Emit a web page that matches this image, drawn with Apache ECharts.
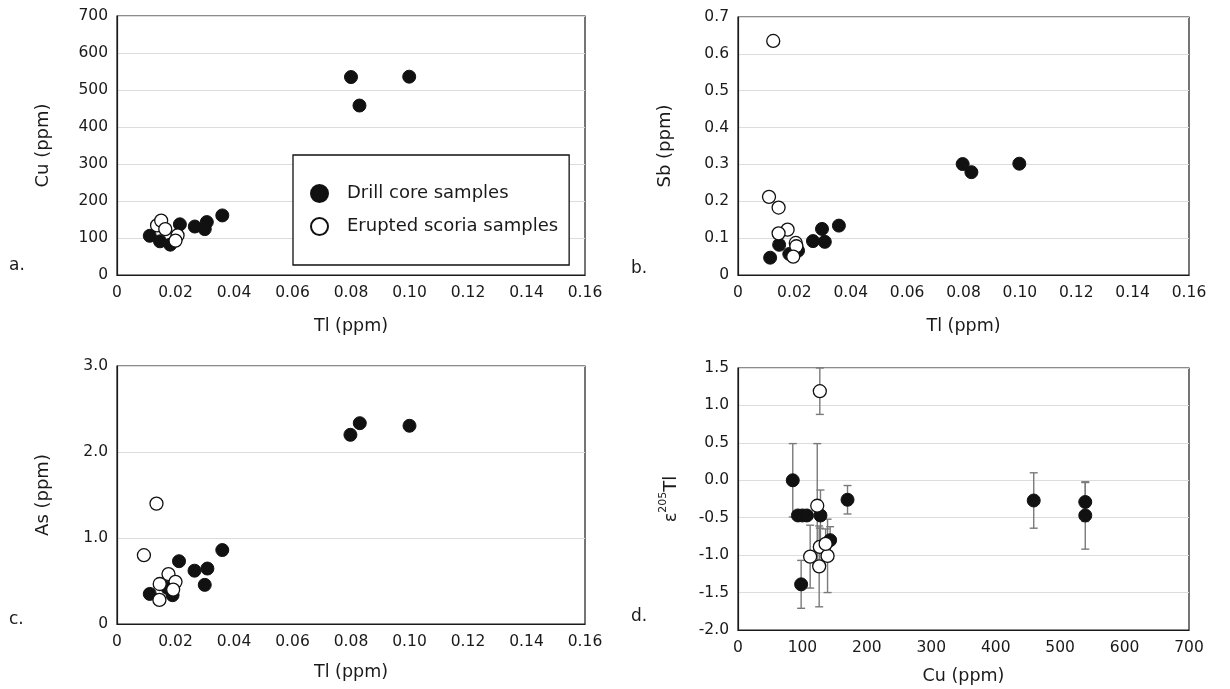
<!DOCTYPE html>
<html>
<head>
<meta charset="utf-8">
<script src="https://cdn.jsdelivr.net/npm/echarts@6/dist/echarts.min.js"></script>
<style>
html,body{margin:0;padding:0;background:#fff;}
#chart{width:1230px;height:689px;}
</style>
</head>
<body>
<div id="chart"></div>
<script>
// ---- tick labels ----
const tlTickLabels = ['0','0.02','0.04','0.06','0.08','0.10','0.12','0.14','0.16'];
const cuTickLabelsA = ['0','100','200','300','400','500','600','700'];
const sbTickLabels = ['0','0.1','0.2','0.3','0.4','0.5','0.6','0.7'];
const asTickLabels = ['0','1.0','2.0','3.0'];
const eTlTickLabels = ['-2.0','-1.5','-1.0','-0.5','0.0','0.5','1.0','1.5'];
const cuTickLabelsD = ['0','100','200','300','400','500','600','700'];

const seriesNames = ['Drill core samples', 'Erupted scoria samples'];

// ---- a. Cu vs Tl  [Tl, Cu] ----
const drillA = [[0.0112,106],[0.0147,91],[0.0182,82],[0.0215,137],[0.0266,131],[0.0300,124],[0.0307,143],[0.0360,161],[0.0800,535],[0.0829,458],[0.0999,536]];
const scoriaA = [[0.0137,134],[0.0151,147],[0.0165,124],[0.0207,107],[0.0200,93]];

// ---- b. Sb vs Tl  [Tl, Sb] ----
const drillB = [[0.0114,0.047],[0.0146,0.082],[0.0182,0.057],[0.0213,0.066],[0.0266,0.092],[0.0298,0.125],[0.0308,0.090],[0.0358,0.134],[0.0797,0.301],[0.0828,0.279],[0.0998,0.302]];
const scoriaB = [[0.0125,0.635],[0.0110,0.212],[0.0144,0.183],[0.0176,0.123],[0.0144,0.113],[0.0205,0.087],[0.0207,0.078],[0.0196,0.050]];

// ---- c. As vs Tl  [Tl, As] ----
const drillC = [[0.0112,0.35],[0.0190,0.335],[0.0172,0.42],[0.0212,0.73],[0.0265,0.62],[0.0300,0.455],[0.0309,0.645],[0.0360,0.86],[0.0798,2.20],[0.0830,2.335],[0.1000,2.305]];
const scoriaC = [[0.0092,0.80],[0.0135,1.40],[0.0176,0.58],[0.0200,0.49],[0.0146,0.465],[0.0192,0.40],[0.0145,0.28]];

// ---- d. eps205Tl vs Cu  [Cu, eTl, error] ----
const drillD = [[85,0.00,0.49],[93,-0.47,0],[100,-0.47,0],[107,-0.47,0],[128,-0.47,0.34],[98,-1.39,0.32],[143,-0.80,0.18],[170,-0.26,0.19],[459,-0.27,0.37],[539,-0.29,0.26],[539,-0.47,0.45]];
const scoriaD = [[127,1.19,0.31],[123,-0.34,0.83],[112,-1.02,0.42],[127,-0.89,0.25],[126,-1.15,0.54],[139,-1.01,0.49],[136,-0.85,0.20]];

const FONT = 'DejaVu Sans';
const TXT = '#1a1a1a';

function labelFrom(list, min, step) {
  return function (v) { return list[Math.round((v - min) / step)] || ''; };
}

function xAxisCfg(gridIndex, min, max, step, labels, name, nameGap) {
  return {
    gridIndex, type: 'value', min, max, interval: step,
    name, nameLocation: 'middle', nameGap,
    nameTextStyle: {fontFamily: FONT, fontSize: 17.5, color: TXT},
    axisLine: {show: true, onZero: false, lineStyle: {color: '#1a1a1a', width: 1.2}},
    axisTick: {show: false},
    splitLine: {show: false},
    axisLabel: {formatter: labelFrom(labels, min, step), fontFamily: FONT, fontSize: 15.5, color: TXT, margin: 10}
  };
}
function yAxisCfg(gridIndex, min, max, step, labels, name, nameGap) {
  return {
    gridIndex, type: 'value', min, max, interval: step,
    name, nameLocation: 'middle', nameGap, nameRotate: 90,
    nameTextStyle: {fontFamily: FONT, fontSize: 18, color: TXT},
    axisLine: {show: true, onZero: false, lineStyle: {color: '#1a1a1a', width: 1.2}},
    axisTick: {show: false},
    splitLine: {show: true, lineStyle: {color: '#dcdcdc', width: 1}},
    axisLabel: {formatter: labelFrom(labels, min, step), fontFamily: FONT, fontSize: 15.5, color: TXT, margin: 9}
  };
}

const drillStyle = {color: '#111', borderColor: '#111', borderWidth: 1, opacity: 1};
const scoriaStyle = {color: '#fff', borderColor: '#111', borderWidth: 1.3, opacity: 1};

function scatter(name, idx, data, style) {
  return {
    type: 'scatter', name, xAxisIndex: idx, yAxisIndex: idx, data,
    symbol: 'circle', symbolSize: 13, itemStyle: style,
    emphasis: {disabled: true}, silent: true
  };
}

function errorBarItem(params, api) {
  const x = api.value(0), y = api.value(1), e = api.value(2);
  if (!e) return null;
  const hi = api.coord([x, y + e]);
  const lo = api.coord([x, y - e]);
  const cap = 4;
  const style = {stroke: '#7a7a7a', lineWidth: 1.4};
  return {type: 'group', children: [
    {type: 'line', shape: {x1: hi[0], y1: hi[1], x2: lo[0], y2: lo[1]}, style},
    {type: 'line', shape: {x1: hi[0] - cap, y1: hi[1], x2: hi[0] + cap, y2: hi[1]}, style},
    {type: 'line', shape: {x1: lo[0] - cap, y1: lo[1], x2: lo[0] + cap, y2: lo[1]}, style}
  ]};
}
function errorSeries(name, idx, data) {
  return {
    type: 'custom', name, xAxisIndex: idx, yAxisIndex: idx, data,
    renderItem: errorBarItem, encode: {x: 0, y: 1}, silent: true, z: 1
  };
}

const gridBox = {show: true, borderColor: '#1a1a1a', borderWidth: 1.2, backgroundColor: 'transparent'};

const option = {
  animation: false,
  textStyle: {fontFamily: FONT},
  grid: [
    Object.assign({left: 117, top: 16, width: 468, height: 259}, gridBox),
    Object.assign({left: 738, top: 17, width: 451, height: 258}, gridBox),
    Object.assign({left: 117, top: 366, width: 468, height: 258}, gridBox),
    Object.assign({left: 738, top: 368, width: 451, height: 262}, gridBox)
  ],
  xAxis: [
    xAxisCfg(0, 0, 0.16, 0.02, tlTickLabels, 'Tl (ppm)', 42),
    xAxisCfg(1, 0, 0.16, 0.02, tlTickLabels, 'Tl (ppm)', 42),
    xAxisCfg(2, 0, 0.16, 0.02, tlTickLabels, 'Tl (ppm)', 39),
    xAxisCfg(3, 0, 700, 100, cuTickLabelsD, 'Cu (ppm)', 37)
  ],
  yAxis: [
    yAxisCfg(0, 0, 700, 100, cuTickLabelsA, 'Cu (ppm)', 65),
    yAxisCfg(1, 0, 0.7, 0.1, sbTickLabels, 'Sb (ppm)', 64),
    yAxisCfg(2, 0, 3, 1, asTickLabels, 'As (ppm)', 65),
    Object.assign(yAxisCfg(3, -2, 1.5, 0.5, eTlTickLabels, '{m|ε}{s|205}{m|Tl}', 58), {
      nameTextStyle: {fontFamily: FONT, color: TXT, rich: {
        m: {fontFamily: FONT, fontSize: 18, color: TXT, lineHeight: 22, verticalAlign: 'bottom'},
        s: {fontFamily: FONT, fontSize: 11, color: TXT, lineHeight: 22, verticalAlign: 'top', padding: [0, 0, 9, 0]}
      }}
    })
  ],
  legend: {
    show: true,
    data: seriesNames,
    orient: 'vertical',
    left: 293, top: 155,
    padding: [29, 11, 29, 17],
    itemGap: 14,
    itemWidth: 17, itemHeight: 17,
    borderColor: '#111', borderWidth: 1.3,
    backgroundColor: '#fff',
    selectedMode: false,
    textStyle: {fontFamily: FONT, fontSize: 18, color: TXT, padding: [0, 0, 0, 14]}
  },
  graphic: [
    {type: 'text', left: 9, top: 257, style: {text: 'a.', font: '17px "DejaVu Sans"', fill: TXT}},
    {type: 'text', left: 631, top: 260, style: {text: 'b.', font: '17px "DejaVu Sans"', fill: TXT}},
    {type: 'text', left: 9, top: 611, style: {text: 'c.', font: '17px "DejaVu Sans"', fill: TXT}},
    {type: 'text', left: 631, top: 608, style: {text: 'd.', font: '17px "DejaVu Sans"', fill: TXT}}
  ],
  series: [
    errorSeries('errDrill', 3, drillD),
    errorSeries('errScoria', 3, scoriaD),
    scatter(seriesNames[0], 0, drillA, drillStyle),
    scatter(seriesNames[1], 0, scoriaA, scoriaStyle),
    scatter(seriesNames[0], 1, drillB, drillStyle),
    scatter(seriesNames[1], 1, scoriaB, scoriaStyle),
    scatter(seriesNames[0], 2, drillC, drillStyle),
    scatter(seriesNames[1], 2, scoriaC, scoriaStyle),
    scatter(seriesNames[0], 3, drillD, drillStyle),
    scatter(seriesNames[1], 3, scoriaD, scoriaStyle)
  ]
};

const chart = echarts.init(document.getElementById('chart'), null, {renderer: 'canvas'});
chart.setOption(option);
</script>
</body>
</html>
